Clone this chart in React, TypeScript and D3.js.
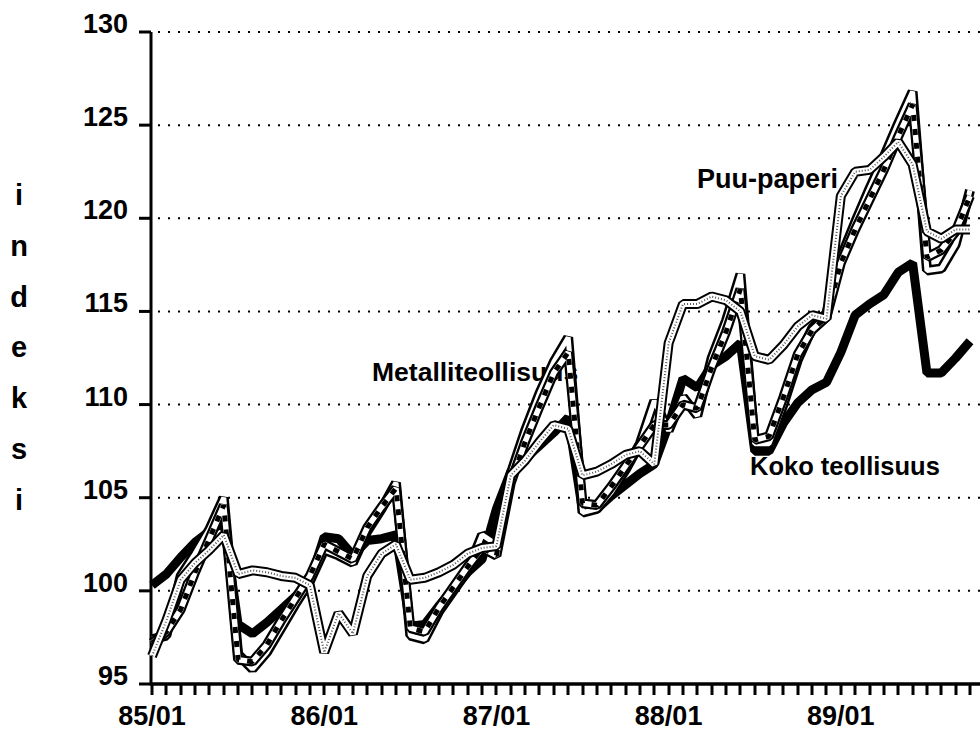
import * as d3 from 'd3';

// monthly index values, 85/01 .. 89/10
const monthCount = 58;
const xTickLabels = ['85/01', '86/01', '87/01', '88/01', '89/01'];
const xTickMonths = [0, 12, 24, 36, 48];
const yTicks = [95, 100, 105, 110, 115, 120, 125, 130];
const yTitle = ['i', 'n', 'd', 'e', 'k', 's', 'i'];

const koko = [
  100.3, 100.9, 101.8, 102.6, 103.2, 103.7,
  98.2, 97.7, 98.3, 99.0, 99.7, 100.5,
  102.9, 102.8, 101.9, 102.7, 102.8, 103.0,
  98.1, 98.2, 99.2, 100.1, 101.0, 101.7,
  104.4, 106.4, 107.1, 107.8, 108.5, 109.3,
  104.3, 104.4, 105.1, 105.7, 106.3, 106.8,
  108.9, 111.4, 110.9, 112.1, 112.6, 113.3,
  107.5, 107.5, 109.0, 110.1, 110.8, 111.2,
  112.8, 114.8, 115.4, 115.9, 117.1, 117.6,
  111.7, 111.7, 112.5, 113.4,
];

const puuPaperi = [
  96.5, 98.4, 100.6, 101.5, 102.2, 103.0,
  100.9, 101.1, 101.0, 100.8, 100.7, 100.3,
  96.7, 98.8, 97.7, 100.8, 102.0, 102.5,
  100.6, 100.7, 101.0, 101.4, 102.0, 102.3,
  102.4, 106.2, 107.0, 108.0, 108.9, 108.7,
  106.2, 106.4, 106.8, 107.3, 107.5, 106.8,
  113.3, 115.4, 115.4, 115.8, 115.6, 115.0,
  112.6, 112.4, 113.2, 114.2, 114.8, 114.6,
  121.2, 122.5, 122.6, 123.3, 124.1, 122.9,
  119.3, 118.9, 119.4, 119.4,
];

const metalli = [
  97.2, 97.8, 99.0, 101.0, 102.8, 104.6,
  96.3, 96.2, 97.1, 98.4, 99.6, 100.8,
  102.5, 102.1, 101.7, 103.4, 104.5, 105.5,
  98.0, 97.8, 99.1, 100.2, 101.3, 102.3,
  101.9, 105.8, 108.0, 109.9, 111.7, 112.8,
  104.7, 104.6, 105.6, 106.7, 107.8, 108.9,
  108.9, 110.0, 109.8, 112.0, 113.9, 116.2,
  108.1, 108.3, 110.4, 112.7, 114.0, 114.7,
  117.6, 119.4, 121.0, 122.6, 124.4, 126.1,
  117.9, 118.3, 119.3, 121.2,
];

// unlabelled fourth series (plain double line)
const muu = [
  97.4, 97.6, 100.8, 102.0, 103.3, 105.0,
  96.6, 95.8, 96.7, 98.0, 99.3, 100.5,
  102.2, 101.9, 101.5, 103.2, 104.4, 105.8,
  97.6, 97.4, 98.9, 100.0, 101.1, 103.0,
  102.5, 106.3, 108.6, 110.6, 112.3, 113.6,
  104.2, 104.4, 105.3, 106.5, 107.9, 110.2,
  108.6, 110.4, 109.4, 112.5, 114.5, 117.0,
  107.9, 107.9, 110.0, 112.4, 114.1, 114.9,
  117.9, 119.8, 121.6, 123.3, 125.1, 126.8,
  117.2, 117.3, 118.6, 121.5,
];

const width = 980;
const height = 732;
const font = 'Liberation Sans, Arial, Helvetica, sans-serif';

export default function App() {
  const x = d3.scaleLinear().domain([0, monthCount - 1]).range([152, 970]);
  const y = d3.scaleLinear().domain([95, 130]).range([684, 32]);
  const line = d3.line<number>()
    .x((_, i) => x(i))
    .y(d => y(d));

  const axisX = 151;
  const axisY = y(95);

  return (
    <svg width={width} height={height} style={{ position: 'absolute', left: 0, top: 0, background: '#fff' }}>
      {/* dotted grid */}
      {yTicks.filter(t => t > 95).map(t => (
        <line key={'g' + t} x1={158} x2={980} y1={y(t)} y2={y(t)}
          stroke="#000" strokeWidth={2} strokeDasharray="2 8" />
      ))}

      {/* axes */}
      <line x1={axisX} x2={axisX} y1={y(130)} y2={axisY + 1.5} stroke="#000" strokeWidth={3} />
      <line x1={axisX - 1} x2={980} y1={axisY} y2={axisY} stroke="#000" strokeWidth={3.5} />
      {yTicks.map(t => (
        <g key={'y' + t}>
          <line x1={139} x2={axisX} y1={y(t)} y2={y(t)} stroke="#000" strokeWidth={3} />
          <text x={128} y={y(t) + 1} textAnchor="end" fontFamily={font} fontWeight="bold" fontSize={27}>{t}</text>
        </g>
      ))}
      {d3.range(monthCount).map(i => (
        <rect key={'xt' + i} x={Math.round(x(i)) - 1.5} y={axisY} width={3} height={11} fill="#000" />
      ))}
      {xTickLabels.map((l, k) => (
        <text key={l} x={x(xTickMonths[k])} y={725} textAnchor="middle" fontFamily={font} fontWeight="bold" fontSize={27}>{l}</text>
      ))}

      {/* vertical axis title */}
      {yTitle.map((c, k) => (
        <text key={'t' + k} x={19} y={205 + k * 50.8} textAnchor="middle" fontFamily={font} fontWeight="bold" fontSize={29}>{c}</text>
      ))}

      {/* series labels (under the lines) */}
      <text x={372} y={381} fontFamily={font} fontWeight="bold" fontSize={26.5}>Metalliteollisuus</text>
      <text x={697} y={188} fontFamily={font} fontWeight="bold" fontSize={27}>Puu-paperi</text>
      <text x={750} y={475} fontFamily={font} fontWeight="bold" fontSize={25.5}>Koko teollisuus</text>

      <g fill="none" strokeLinejoin="bevel">
        {/* Koko teollisuus */}
        <path d={line(koko) ?? ''} stroke="#000" strokeWidth={9} />

        {/* plain double line */}
        <path d={line(muu) ?? ''} stroke="#000" strokeWidth={10} />
        <path d={line(muu) ?? ''} stroke="#fff" strokeWidth={5} />

        {/* Metalliteollisuus, hatched */}
        <path d={line(metalli) ?? ''} stroke="#000" strokeWidth={10} />
        <path d={line(metalli) ?? ''} stroke="#fff" strokeWidth={5.5} />
        <path d={line(metalli) ?? ''} stroke="#000" strokeWidth={5} strokeDasharray="6 8" />

        {/* Puu-paperi, dotted */}
        <path d={line(puuPaperi) ?? ''} stroke="#000" strokeWidth={10} />
        <path d={line(puuPaperi) ?? ''} stroke="#fff" strokeWidth={6} />
        <path d={line(puuPaperi) ?? ''} stroke="#555" strokeWidth={2} strokeDasharray="1 2" />
      </g>
    </svg>
  );
}
